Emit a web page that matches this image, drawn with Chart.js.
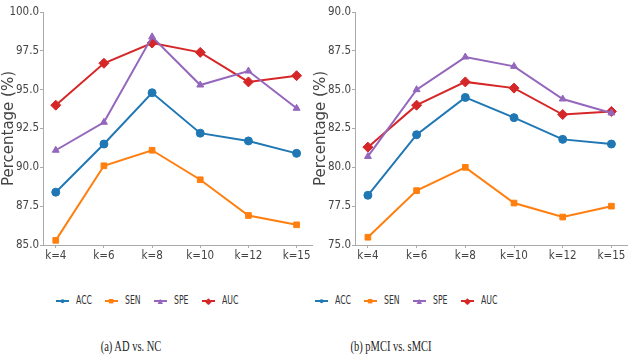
<!DOCTYPE html>
<html>
<head>
<meta charset="utf-8">
<script src="https://cdn.jsdelivr.net/npm/chart.js@4.4.1/dist/chart.umd.min.js"></script>
<style>
  html, body { margin: 0; padding: 0; background: #fff; }
  body { width: 633px; height: 362px; position: relative; overflow: hidden; }
  .panel { position: absolute; top: 0; }
  .legend-item { position: absolute; top: 294px; height: 14px; }
  .legend-line { position: absolute; top: 6px; left: 0; width: 13px; height: 2px; }
  .legend-mark { position: absolute; left: 2px; top: 2px; width: 9px; height: 9px; font-size: 9px; line-height: 10px; text-align: center; }
  .legend-text { position: absolute; left: 20px; top: -1px; font: 12px 'DejaVu Sans Condensed', 'DejaVu Sans', sans-serif; color: #333; transform: scaleX(0.72); transform-origin: left center; white-space: nowrap; }
  .caption { position: absolute; top: 338px; font: 15px 'Liberation Serif', serif; color: #222; transform: translateX(-50%) scaleX(0.7); white-space: nowrap; }
</style>
</head>
<body>
<div class="panel" style="left:0;width:318px;height:267px;"><canvas id="chartA"></canvas></div>
<div class="panel" style="left:312px;width:321px;height:267px;"><canvas id="chartB"></canvas></div>
<div id="legendA"></div>
<div id="legendB"></div>
<div class="caption" style="left:131px;">(a) AD vs. NC</div>
<div class="caption" style="left:391px;">(b) pMCI vs. sMCI</div>
<script>
const kLabels = ['k=4', 'k=6', 'k=8', 'k=10', 'k=12', 'k=15'];
const seriesNames = ['ACC', 'SEN', 'SPE', 'AUC'];
const seriesColors = ['#1f77b4', '#ff7f0e', '#9467bd', '#d62728'];
const markerStyles = ['circle', 'rect', 'triangle', 'rectRot'];
const markerGlyphs = ['\u25CF', '\u25A0', '\u25B2', '\u25C6'];

// (a) AD vs. NC
const adAcc = [88.4, 91.5, 94.8, 92.2, 91.7, 90.9];
const adSen = [85.3, 90.1, 91.1, 89.2, 86.9, 86.3];
const adSpe = [91.1, 92.9, 98.4, 95.3, 96.2, 93.8];
const adAuc = [94.0, 96.7, 98.0, 97.4, 95.5, 95.9];
const adTicks = [85.0, 87.5, 90.0, 92.5, 95.0, 97.5, 100.0];

// (b) pMCI vs. sMCI
const mciAcc = [78.2, 82.1, 84.5, 83.2, 81.8, 81.5];
const mciSen = [75.5, 78.5, 80.0, 77.7, 76.8, 77.5];
const mciSpe = [80.7, 85.0, 87.1, 86.5, 84.4, 83.5];
const mciAuc = [81.3, 84.0, 85.5, 85.1, 83.4, 83.6];
const mciTicks = [75.0, 77.5, 80.0, 82.5, 85.0, 87.5, 90.0];

const TICK_FONT = { family: "'DejaVu Sans Condensed', 'DejaVu Sans', sans-serif", size: 11.5 };
const TEXT_COLOR = '#444';
const AXIS_COLOR = '#aaa';

function buildDatasets(seriesList) {
  return seriesList.map((values, i) => ({
    label: seriesNames[i],
    data: values.map((v, idx) => ({ x: idx, y: v })),
    borderColor: seriesColors[i],
    backgroundColor: seriesColors[i],
    pointStyle: markerStyles[i],
    pointRadius: i === 3 ? 5 : 4,
    pointBorderWidth: 1,
    borderWidth: 2,
    tension: 0,
    clip: false,
  }));
}

function makeChart(canvasId, seriesList, yTicks) {
  return new Chart(document.getElementById(canvasId), {
    type: 'line',
    data: { datasets: buildDatasets(seriesList) },
    options: {
      responsive: true,
      maintainAspectRatio: false,
      animation: false,
      layout: { padding: { top: 12, right: 0, bottom: 0, left: 0 } },
      plugins: { legend: { display: false }, tooltip: { enabled: false } },
      scales: {
        x: {
          type: 'linear',
          min: -0.265,
          max: 5.32,
          afterBuildTicks: (scale) => { scale.ticks = kLabels.map((_, i) => ({ value: i })); },
          afterFit: (scale) => { scale.height = 22; },
          ticks: {
            color: TEXT_COLOR,
            font: TICK_FONT,
            padding: 1,
            maxRotation: 0,
            callback: (v) => kLabels[v],
          },
          grid: { drawOnChartArea: false, drawTicks: true, tickLength: 3, color: AXIS_COLOR },
          border: { display: true, color: AXIS_COLOR, width: 1 },
        },
        y: {
          min: yTicks[0],
          max: yTicks[yTicks.length - 1],
          afterBuildTicks: (scale) => { scale.ticks = yTicks.map((v) => ({ value: v })); },
          afterFit: (scale) => { scale.width = 43; },
          ticks: {
            color: TEXT_COLOR,
            font: TICK_FONT,
            padding: 1,
            callback: (v) => v.toFixed(1),
          },
          title: {
            display: true,
            text: 'Percentage (%)',
            color: TEXT_COLOR,
            font: { family: "'DejaVu Sans', sans-serif", size: 15 },
            padding: { top: 0, bottom: 0 },
          },
          grid: { drawOnChartArea: false, drawTicks: true, tickLength: 3, color: AXIS_COLOR },
          border: { display: true, color: AXIS_COLOR, width: 1 },
        },
      },
    },
  });
}

function buildLegend(containerId, startX) {
  const container = document.getElementById(containerId);
  seriesNames.forEach((name, i) => {
    const item = document.createElement('div');
    item.className = 'legend-item';
    item.style.left = `${startX + i * 48.8}px`;
    item.innerHTML = `
      <span class="legend-line" style="background:${seriesColors[i]}"></span>
      <span class="legend-mark" style="color:${seriesColors[i]}">${markerGlyphs[i]}</span>
      <span class="legend-text">${name}</span>
    `;
    container.appendChild(item);
  });
}

makeChart('chartA', [adAcc, adSen, adSpe, adAuc], adTicks);
makeChart('chartB', [mciAcc, mciSen, mciSpe, mciAuc], mciTicks);
buildLegend('legendA', 56);
buildLegend('legendB', 315);
</script>
</body>
</html>
